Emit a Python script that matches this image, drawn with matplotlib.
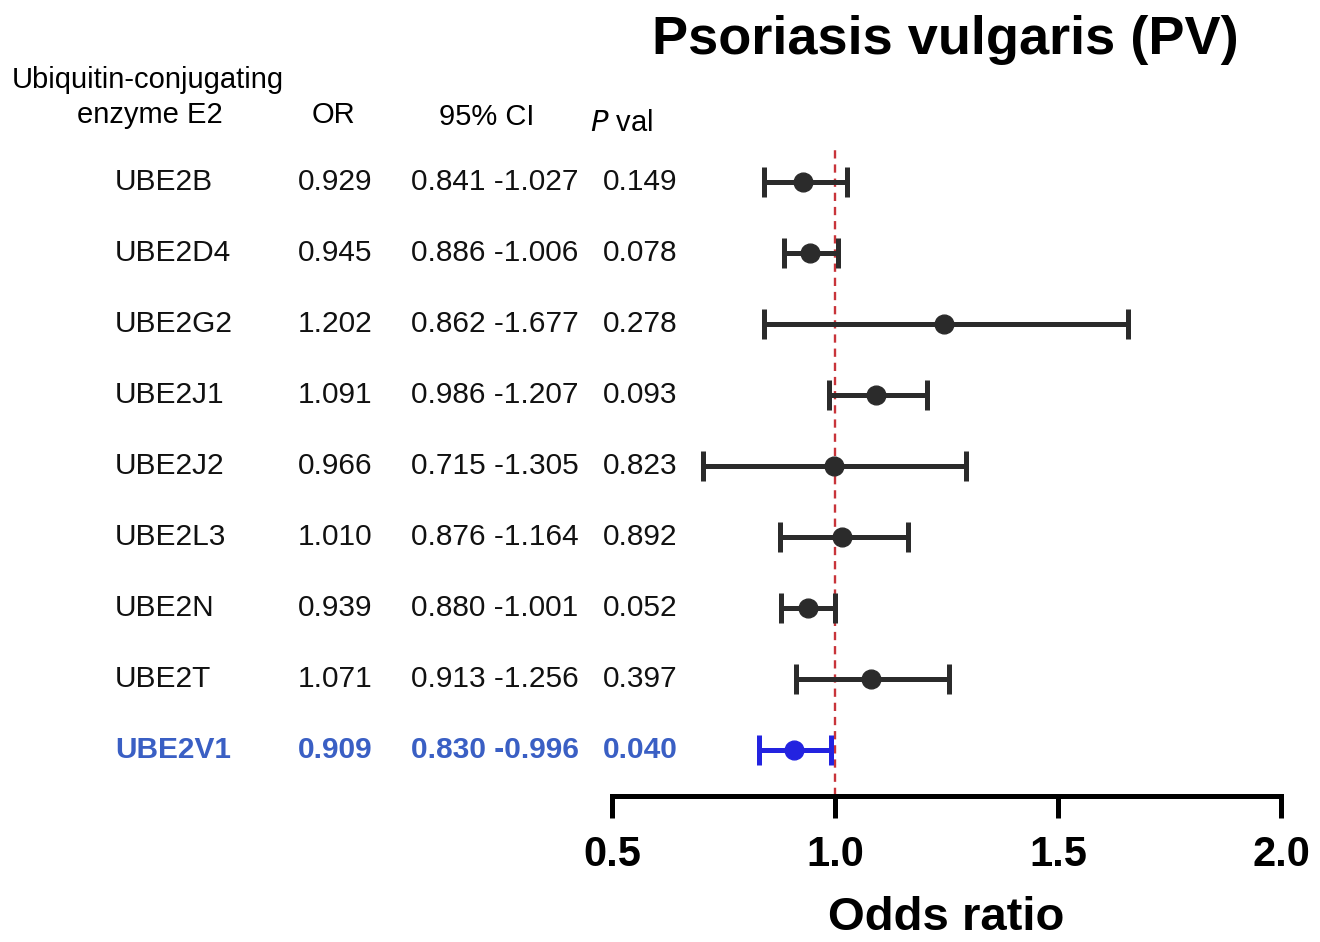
import matplotlib
matplotlib.use("Agg")
import matplotlib.pyplot as plt
import matplotlib.transforms as mtransforms

plt.rcParams['font.family'] = ['Liberation Sans', 'DejaVu Sans']

# ---- data ----
genes = ["UBE2B", "UBE2D4", "UBE2G2", "UBE2J1", "UBE2J2", "UBE2L3", "UBE2N", "UBE2T", "UBE2V1"]
or_text = ["0.929", "0.945", "1.202", "1.091", "0.966", "1.010", "0.939", "1.071", "0.909"]
ci_text = ["0.841 -1.027", "0.886 -1.006", "0.862 -1.677", "0.986 -1.207", "0.715 -1.305",
           "0.876 -1.164", "0.880 -1.001", "0.913 -1.256", "0.830 -0.996"]
p_text = ["0.149", "0.078", "0.278", "0.093", "0.823", "0.892", "0.052", "0.397", "0.040"]
# positions as drawn in the picture
or_plot = [0.929, 0.945, 1.244, 1.091, 0.998, 1.016, 0.939, 1.080, 0.909]
ci_lo = [0.841, 0.886, 0.840, 0.986, 0.704, 0.876, 0.880, 0.913, 0.830]
ci_hi = [1.027, 1.006, 1.657, 1.207, 1.293, 1.164, 1.001, 1.256, 0.990]
highlight = [False] * 8 + [True]
xticks = [0.5, 1.0, 1.5, 2.0]

W, H = 1320, 942
fig = plt.figure(figsize=(W / 100, H / 100), dpi=100)

ax_left, ax_right = 612, 1281
ax_top, ax_bot = 150, 796
ax = fig.add_axes([ax_left / W, 1 - ax_bot / H, (ax_right - ax_left) / W, (ax_bot - ax_top) / H])

row0, dy = 182, 71
ax.set_ylim((ax_bot - row0) / dy, (ax_top - row0) / dy)
ax.set_xlim(0.5, 2.0)

dark = "#2b2b2b"
blue_mark = "#2323e0"
blue_text = "#3a5fc4"

for i in range(len(genes)):
    col = blue_mark if highlight[i] else dark
    ax.errorbar(or_plot[i], i,
                xerr=[[or_plot[i] - ci_lo[i]], [ci_hi[i] - or_plot[i]]],
                fmt='o', color=col, ecolor=col, elinewidth=3.6, capsize=11,
                capthick=3.6, markersize=13.5, zorder=3)

ax.axvline(1.0, color="#c8343a", linestyle=(0, (3.5, 2.5)), linewidth=1.7, zorder=2)

for s in ["top", "right", "left"]:
    ax.spines[s].set_visible(False)
ax.spines["bottom"].set_linewidth(3.6)
ax.spines["bottom"].set_capstyle("projecting")
ax.set_yticks([])
ax.set_xticks(xticks)
ax.set_xticklabels([f"{t:.1f}" for t in xticks], fontsize=30, fontweight="bold")
ax.tick_params(axis="x", direction="out", length=16, width=3.6, pad=12)

fig.text(946 / W, 1 - 918 / H, "Odds ratio", ha="center", va="center",
         fontsize=34, fontweight="bold")
fig.text(945 / W, 1 - 40 / H, "Psoriasis vulgaris (PV)", ha="center", va="center",
         fontsize=39, fontweight="bold")

# headers
hs = 21
fig.text(12 / W, 1 - 80 / H, "Ubiquitin-conjugating", ha="left", va="center", fontsize=hs)
fig.text(150 / W, 1 - 115 / H, "enzyme E2", ha="center", va="center", fontsize=hs)
fig.text(333 / W, 1 - 115 / H, "OR", ha="center", va="center", fontsize=hs)
fig.text(487 / W, 1 - 117 / H, "95% CI", ha="center", va="center", fontsize=hs)
fig.text(590 / W, 1 - 123 / H, r"$\mathit{P}$ val", ha="left", va="center", fontsize=hs)

tr = mtransforms.blended_transform_factory(fig.transFigure, ax.transData)
fs = 21.5
for i in range(len(genes)):
    c = blue_text if highlight[i] else "#111111"
    w = "bold" if highlight[i] else "normal"
    ax.text(115 / W, i, genes[i], transform=tr, ha="left", va="center", fontsize=fs, color=c, fontweight=w)
    ax.text(335 / W, i, or_text[i], transform=tr, ha="center", va="center", fontsize=fs, color=c, fontweight=w)
    ax.text(411 / W, i, ci_text[i], transform=tr, ha="left", va="center", fontsize=fs, color=c, fontweight=w)
    ax.text(603 / W, i, p_text[i], transform=tr, ha="left", va="center", fontsize=fs, color=c, fontweight=w)

fig.savefig("out.png", dpi=100)
